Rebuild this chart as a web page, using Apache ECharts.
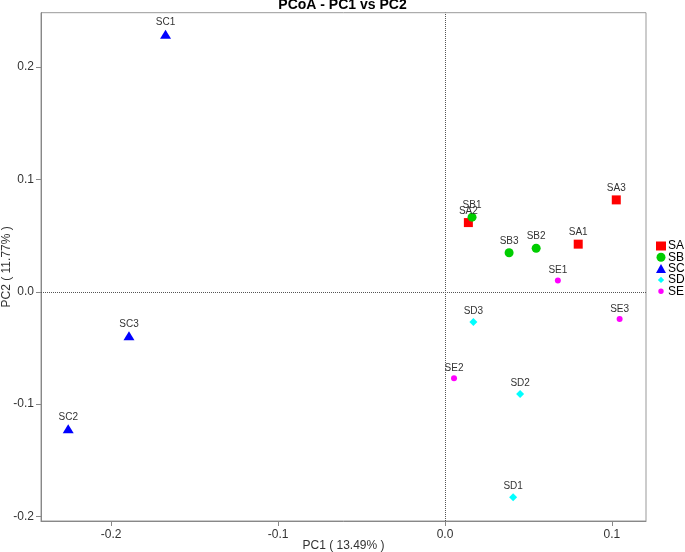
<!DOCTYPE html>
<html>
<head>
<meta charset="utf-8">
<script src="https://cdn.jsdelivr.net/npm/echarts@6/dist/echarts.min.js"></script>
<style>
html,body{margin:0;padding:0;background:#fff;}
#chart{width:685px;height:552px;}
</style>
</head>
<body>
<div id="chart"></div>
<script>
const groups = ['SA', 'SB', 'SC', 'SD', 'SE'];
const saNames = ['SA1', 'SA2', 'SA3'];
const saPC1 = [0.0798, 0.0140, 0.1026];
const saPC2 = [0.0424, 0.0616, 0.0818];
const sbNames = ['SB1', 'SB2', 'SB3'];
const sbPC1 = [0.0162, 0.0546, 0.0384];
const sbPC2 = [0.0664, 0.0388, 0.0347];
const scNames = ['SC1', 'SC2', 'SC3'];
const scPC1 = [-0.1674, -0.2257, -0.1893];
const scPC2 = [0.2293, -0.1218, -0.0391];
const sdNames = ['SD1', 'SD2', 'SD3'];
const sdPC1 = [0.0408, 0.0450, 0.0170];
const sdPC2 = [-0.1828, -0.0909, -0.0269];
const seNames = ['SE1', 'SE2', 'SE3'];
const sePC1 = [0.0676, 0.0054, 0.1046];
const sePC2 = [0.0100, -0.0770, -0.0243];
const xTicks = [-0.2, -0.1, 0.0, 0.1];
const yTicks = [-0.2, -0.1, 0.0, 0.1, 0.2];

const font = '"Liberation Sans", Arial, Helvetica, sans-serif';
const groupData = [
  [saNames, saPC1, saPC2],
  [sbNames, sbPC1, sbPC2],
  [scNames, scPC1, scPC2],
  [sdNames, sdPC1, sdPC2],
  [seNames, sePC1, sePC2]
];
const styles = [
  {symbol: 'rect', size: 9, color: '#FF0000', legendIcon: 'rect'},
  {symbol: 'circle', size: 9, color: '#00CD00', legendIcon: 'circle'},
  {symbol: 'triangle', size: [11, 9], color: '#0000FF', legendIcon: 'triangle'},
  {symbol: 'diamond', size: 8, color: '#00FFFF', legendIcon: 'path://M5,1.5L8.5,5L5,8.5L1.5,5Z M0,0 M10,10'},
  {symbol: 'circle', size: 6, color: '#FF00FF', legendIcon: 'path://M5,2A3,3 0 1,1 4.99,2Z M0,0 M10,10'}
];

const series = groups.map((g, i) => {
  const [names, xs, ys] = groupData[i];
  const s = {
    name: g,
    type: 'scatter',
    symbol: styles[i].symbol,
    symbolSize: styles[i].size,
    itemStyle: {color: styles[i].color, opacity: 1},
    label: {
      show: true, position: 'top', distance: 2,
      formatter: p => p.data.name,
      fontFamily: font, fontSize: 10, color: '#333'
    },
    emphasis: {disabled: true},
    data: names.map((n, k) => ({name: n, value: [xs[k], ys[k]]}))
  };
  if (i === 0) {
    s.markLine = {
      silent: true, symbol: 'none', animation: false,
      label: {show: false},
      lineStyle: {type: 'dotted', color: '#555', width: 1},
      data: [{xAxis: 0}, {yAxis: 0}]
    };
  }
  return s;
});

const chart = echarts.init(document.getElementById('chart'));
chart.setOption({
  animation: false,
  backgroundColor: '#fff',
  title: {
    text: 'PCoA - PC1 vs PC2',
    left: 'center', top: -2, padding: 0,
    textStyle: {fontFamily: font, fontSize: 14, fontWeight: 'bold', color: '#000'}
  },
  legend: {
    orient: 'vertical', left: 656, top: 240,
    itemWidth: 10, itemHeight: 9, itemGap: -0.7, padding: 0,
    data: groups.map((g, i) => ({name: g, icon: styles[i].legendIcon})),
    textStyle: {fontFamily: font, fontSize: 12, color: '#000', padding: [0, 0, 0, -3]}
  },
  grid: {
    left: 41, right: 39, top: 12.7, bottom: 31,
    containLabel: false, outerBoundsMode: 'none',
    show: true, borderColor: '#999', borderWidth: 1
  },
  xAxis: {
    type: 'value', min: -0.242, max: 0.1204,
    name: 'PC1 ( 13.49% )', nameLocation: 'middle', nameGap: 19, nameMoveOverlap: false,
    nameTextStyle: {fontFamily: font, fontSize: 12, color: '#333'},
    splitLine: {show: false},
    axisLine: {show: true, onZero: false, lineStyle: {color: '#888'}},
    axisTick: {show: true, length: 5, customValues: xTicks, lineStyle: {color: '#888'}},
    axisLabel: {customValues: xTicks, formatter: v => v.toFixed(1), fontFamily: font, fontSize: 12, color: '#333', margin: 8}
  },
  yAxis: {
    type: 'value', min: -0.204, max: 0.2484,
    name: 'PC2 ( 11.77% )', nameLocation: 'middle', nameGap: 28, nameMoveOverlap: false,
    nameTextStyle: {fontFamily: font, fontSize: 12, color: '#333'},
    splitLine: {show: false},
    axisLine: {show: true, onZero: false, lineStyle: {color: '#888'}},
    axisTick: {show: true, length: 5, customValues: yTicks, lineStyle: {color: '#888'}},
    axisLabel: {customValues: yTicks, formatter: v => v.toFixed(1), fontFamily: font, fontSize: 12, color: '#333', margin: 7}
  },
  series: series
});
</script>
</body>
</html>
